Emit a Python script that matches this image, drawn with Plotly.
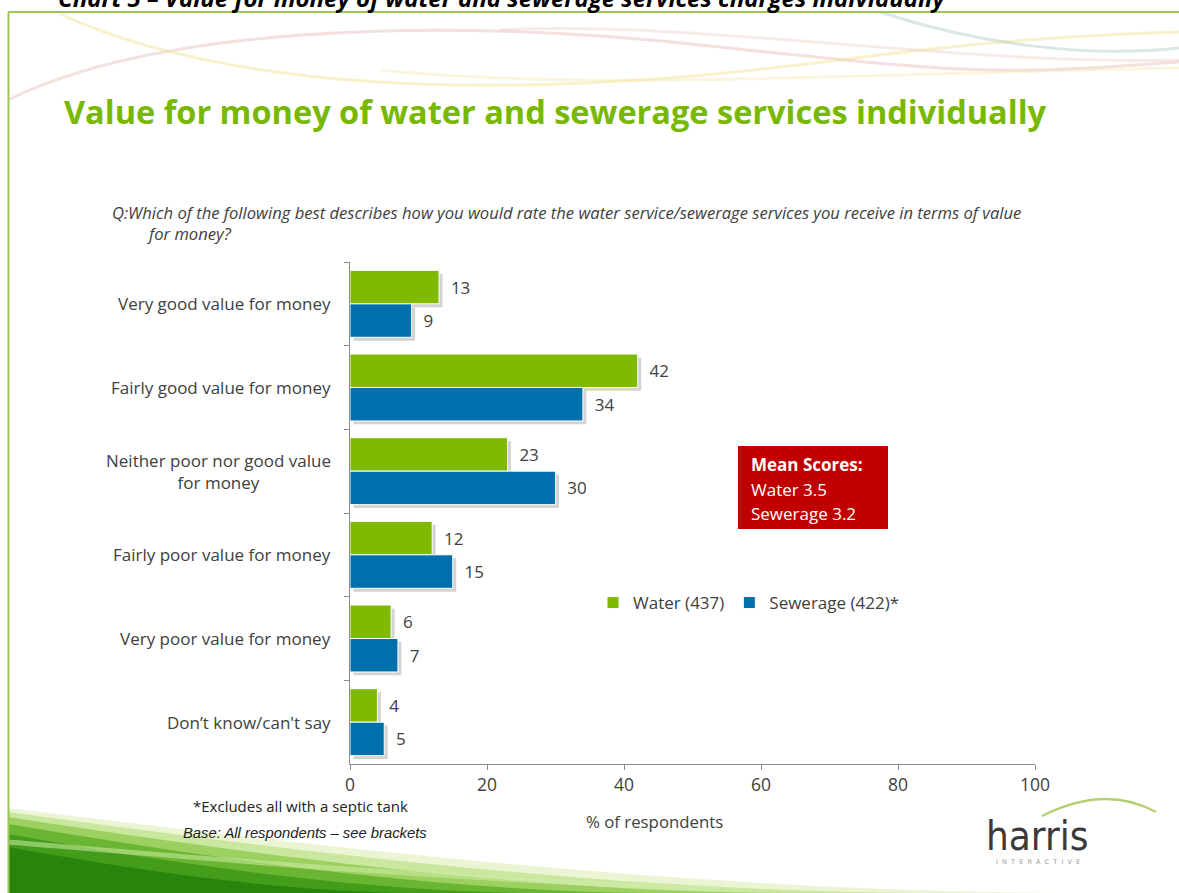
import plotly.graph_objects as go

# Survey results: % of respondents per rating
categories = [
    "Very good value for money",
    "Fairly good value for money",
    "Neither poor nor good value for money",
    "Fairly poor value for money",
    "Very poor value for money",
    "Don’t know/can't say",
]
category_labels = [
    "Very good value for money",
    "Fairly good value for money",
    "Neither poor nor good value<br>for money",
    "Fairly poor value for money",
    "Very poor value for money",
    "Don’t know/can't say",
]
water = [13, 42, 23, 12, 6, 4]
sewerage = [9, 34, 30, 15, 7, 5]
x_ticks = [0, 20, 40, 60, 80, 100]

W, H = 1179, 893
GREEN = "#7fba00"
BLUE = "#0070ad"
TEXT = "#404040"
FONT = "Open Sans, Lato, sans-serif"


def px(x):
    return x / W


def py(y):
    return 1 - y / H


def path(cmds):
    """Build an SVG path in paper units from pixel coordinates."""
    out = []
    for c in cmds:
        if isinstance(c, str):
            out.append(c)
        else:
            out.append(f"{px(c[0]):.5f},{py(c[1]):.5f}")
    return " ".join(out)


fig = go.Figure()

# soft drop shadows behind the bars
for vals, off in ((water, -0.4), (sewerage, 0.0)):
    fig.add_trace(go.Bar(
        y=categories, x=vals, base=0.5, orientation="h",
        width=0.4, offset=off + 0.04,
        marker=dict(color="rgba(110,110,110,0.3)", line=dict(width=0)),
        showlegend=False, hoverinfo="skip",
    ))

fig.add_trace(go.Bar(
    y=categories, x=water, orientation="h", name="Water (437)",
    width=0.4, offset=-0.4,
    marker=dict(color=GREEN, line=dict(color="white", width=1)),
    text=water, texttemplate="  %{x}", textposition="outside",
    textfont=dict(family=FONT, size=17, color=TEXT), cliponaxis=False,
))
fig.add_trace(go.Bar(
    y=categories, x=sewerage, orientation="h", name="Sewerage (422)*",
    width=0.4, offset=0.0,
    marker=dict(color=BLUE, line=dict(color="white", width=1)),
    text=sewerage, texttemplate="  %{x}", textposition="outside",
    textfont=dict(family=FONT, size=17, color=TEXT), cliponaxis=False,
))

shapes = []
# decorative ribbons across the header
ribbons = [
    ("rgba(225,165,165,0.35)", [["M", (8, 100)], ["C", (150, 30), (420, 15), (700, 45)], ["S", (1000, 75), (1179, 62)]]),
    ("rgba(240,225,140,0.45)", [["M", (60, 14)], ["C", (160, 60), (320, 92), (560, 84)], ["S", (900, 40), (1179, 32)]]),
    ("rgba(170,205,190,0.45)", [["M", (880, 12)], ["C", (980, 45), (1090, 58), (1179, 48)]]),
    ("rgba(245,230,170,0.4)", [["M", (380, 70)], ["C", (600, 92), (900, 72), (1179, 68)]]),
    ("rgba(230,185,175,0.3)", [["M", (500, 30)], ["C", (700, 20), (950, 65), (1179, 60)]]),
]
for col, segs in ribbons:
    cmds = []
    for seg in segs:
        cmds.append(seg[0])
        cmds.extend(seg[1:])
    shapes.append(dict(type="path", xref="paper", yref="paper", layer="below",
                       path=path(cmds), line=dict(color=col, width=3)))

# green swoosh in the lower-left corner, layered from light to dark
swoosh = [
    (808, 1060, "rgba(215,236,170,0.5)"),
    (812, 920, "rgba(175,218,115,0.55)"),
    (817, 780, "rgba(130,196,65,0.65)"),
    (824, 650, "rgba(90,172,35,0.75)"),
    (834, 530, "rgba(58,150,20,0.8)"),
    (847, 410, "rgba(36,128,12,0.85)"),
]
for y0, x1, col in swoosh:
    top = 893 - y0
    shapes.append(dict(type="path", xref="paper", yref="paper", layer="below",
                       path=path(["M", (8, y0), "C", (x1 * 0.3, y0 + top * 0.45),
                                  (x1 * 0.65, 891), (x1, 893), "L", (8, 893), "Z"]),
                       fillcolor=col, line=dict(width=0)))
# light highlight streak across the swoosh
shapes.append(dict(type="path", xref="paper", yref="paper", layer="below",
                   path=path(["M", (8, 842), "C", (200, 858), (420, 878), (720, 889)]),
                   line=dict(color="rgba(205,236,165,0.55)", width=5)))

# slide frame
shapes.append(dict(type="line", xref="paper", yref="paper", x0=px(8), x1=px(1179),
                   y0=py(12), y1=py(12), line=dict(color="#9bc75a", width=2)))
shapes.append(dict(type="line", xref="paper", yref="paper", x0=px(8.5), x1=px(8.5),
                   y0=py(12), y1=py(893), line=dict(color="#9bc75a", width=2)))

# mean scores box
shapes.append(dict(type="rect", xref="paper", yref="paper", x0=px(738), x1=px(888),
                   y0=py(446), y1=py(529), fillcolor="#c00000", line=dict(width=0)))

# logo arc
shapes.append(dict(type="path", xref="paper", yref="paper",
                   path=path(["M", (1042, 816), "Q", (1105, 784), (1156, 812)]),
                   line=dict(color="#b5d070", width=2.5)))

annotations = []
# chart caption running off the top edge
annotations.append(dict(
    xref="paper", yref="paper", x=px(948), y=py(16), xanchor="right", yanchor="bottom",
    text="<b><i>Chart 5 – Value for money of water and sewerage services charges individually</i></b>",
    showarrow=False, font=dict(family=FONT, size=24, color="#000000"),
))
annotations.append(dict(
    xref="paper", yref="paper", x=px(62), y=py(112), xanchor="left", yanchor="middle",
    text="<b>Value for money of water and sewerage services individually</b>",
    showarrow=False, font=dict(family=FONT, size=32.5, color="#78b800"),
))
annotations.append(dict(
    xref="paper", yref="paper", x=px(110), y=py(212), xanchor="left", yanchor="middle",
    text="<i>Q:Which of the following best describes how you would rate the water service/sewerage services you receive in terms of value</i>",
    showarrow=False, font=dict(family=FONT, size=16.6, color=TEXT),
))
annotations.append(dict(
    xref="paper", yref="paper", x=px(145), y=py(233), xanchor="left", yanchor="middle",
    text="<i>for money?</i>",
    showarrow=False, font=dict(family=FONT, size=16.6, color=TEXT),
))

# category labels, centred line by line
for cat, lab in zip(categories, category_labels):
    annotations.append(dict(
        xref="paper", yref="y", x=px(333), y=cat, xanchor="right", yanchor="middle",
        text=lab, align="center", showarrow=False,
        font=dict(family=FONT, size=17, color=TEXT),
    ))

# mean scores text
for txt, yy in (("<b>Mean Scores:</b>", 464), ("Water 3.5", 489), ("Sewerage 3.2", 513)):
    annotations.append(dict(
        xref="paper", yref="paper", x=px(749), y=py(yy), xanchor="left", yanchor="middle",
        text=txt, showarrow=False, font=dict(family=FONT, size=17, color="white"),
    ))

annotations.append(dict(
    xref="paper", yref="paper", x=px(654), y=py(821), xanchor="center", yanchor="middle",
    text="% of respondents", showarrow=False, font=dict(family=FONT, size=16.8, color=TEXT),
))
annotations.append(dict(
    xref="paper", yref="paper", x=px(300), y=py(806), xanchor="center", yanchor="middle",
    text="*Excludes all with a septic tank", showarrow=False,
    font=dict(family=FONT, size=15, color="#222222"),
))
annotations.append(dict(
    xref="paper", yref="paper", x=px(305), y=py(833), xanchor="center", yanchor="middle",
    text="<i>Base: All respondents – see brackets</i>", showarrow=False,
    font=dict(family="Liberation Sans, Arial, sans-serif", size=14.8, color="#222222"),
))
# logo wordmark
annotations.append(dict(
    xref="paper", yref="paper", x=px(1037), y=py(836), xanchor="center", yanchor="middle",
    text="harris", showarrow=False,
    font=dict(family="Liberation Sans Narrow, DejaVu Sans Condensed, sans-serif", size=40, color="#3a3a3a"),
))
annotations.append(dict(
    xref="paper", yref="paper", x=px(1038), y=py(862), xanchor="center", yanchor="middle",
    text="I  N  T  E  R  A  C  T  I  V  E", showarrow=False,
    font=dict(family="DejaVu Sans, sans-serif", size=6.5, color="#9a9a9a"),
))

fig.update_layout(
    width=W, height=H,
    margin=dict(l=0, r=0, t=0, b=0),
    paper_bgcolor="white", plot_bgcolor="rgba(0,0,0,0)",
    barmode="overlay",
    font=dict(family=FONT, size=17, color=TEXT),
    shapes=shapes, annotations=annotations,
    legend=dict(orientation="h", x=px(593), y=py(603), xanchor="left", yanchor="middle",
                font=dict(family=FONT, size=17, color=TEXT), bgcolor="rgba(0,0,0,0)",
                itemwidth=30, traceorder="normal"),
    xaxis=dict(domain=[px(350), px(1035)], range=[0, 100], tickvals=x_ticks,
               showgrid=False, zeroline=False, showline=True, linecolor="#8c8c8c",
               linewidth=1, ticks="outside", ticklen=5, tickcolor="#8c8c8c",
               tickfont=dict(family=FONT, size=17.5, color=TEXT), automargin=False),
    yaxis=dict(domain=[py(764), py(262)], categoryorder="array", categoryarray=categories,
               autorange="reversed", showgrid=False, zeroline=False, showline=True,
               linecolor="#8c8c8c", linewidth=1, ticks="outside", ticklen=5,
               tickcolor="#8c8c8c", tickson="boundaries", showticklabels=False,
               automargin=False),
)

fig.write_html("out.html")
